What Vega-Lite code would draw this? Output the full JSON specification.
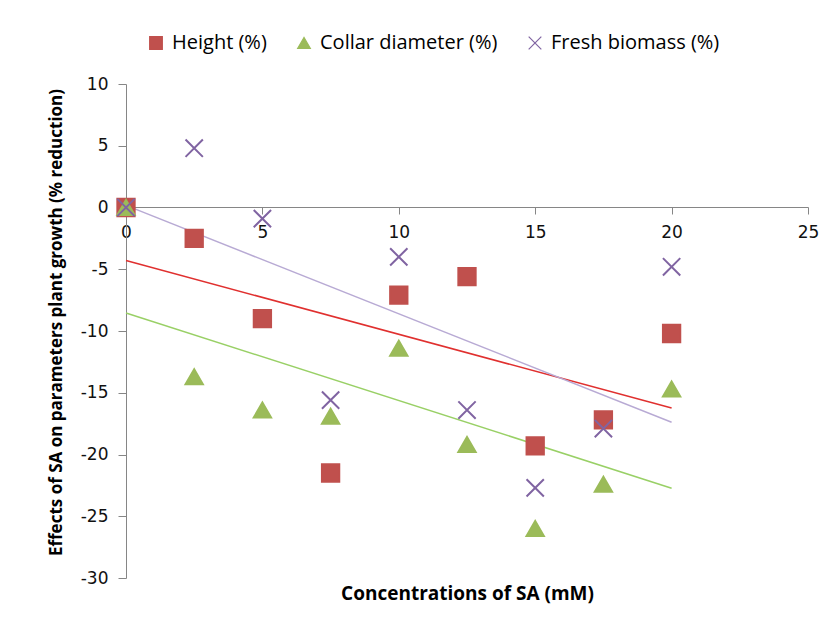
{
  "$schema": "https://vega.github.io/schema/vega-lite/v6.json",
  "width": 682,
  "height": 494,
  "autosize": {"type": "none"},
  "padding": {"left": 126, "top": 84, "right": 24, "bottom": 45},
  "background": "white",
  "config": {
    "view": {"stroke": null},
    "axis": {
      "grid": false,
      "domainColor": "#868686",
      "tickColor": "#868686",
      "labelFont": "DejaVu Sans",
      "labelFontSize": 17,
      "labelColor": "#111111",
      "titleFont": "Open Sans",
      "titleFontWeight": "bold",
      "titleColor": "#000000"
    }
  },
  "data": {
    "values": [
      {"conc": 0, "series": "Height (%)", "value": 0},
      {"conc": 2.5, "series": "Height (%)", "value": -2.5},
      {"conc": 5, "series": "Height (%)", "value": -9.0},
      {"conc": 7.5, "series": "Height (%)", "value": -21.5},
      {"conc": 10, "series": "Height (%)", "value": -7.1},
      {"conc": 12.5, "series": "Height (%)", "value": -5.6},
      {"conc": 15, "series": "Height (%)", "value": -19.3},
      {"conc": 17.5, "series": "Height (%)", "value": -17.2},
      {"conc": 20, "series": "Height (%)", "value": -10.2},
      {"conc": 0, "series": "Collar diameter (%)", "value": 0},
      {"conc": 2.5, "series": "Collar diameter (%)", "value": -13.7},
      {"conc": 5, "series": "Collar diameter (%)", "value": -16.4},
      {"conc": 7.5, "series": "Collar diameter (%)", "value": -16.9},
      {"conc": 10, "series": "Collar diameter (%)", "value": -11.4},
      {"conc": 12.5, "series": "Collar diameter (%)", "value": -19.2},
      {"conc": 15, "series": "Collar diameter (%)", "value": -26.0},
      {"conc": 17.5, "series": "Collar diameter (%)", "value": -22.4},
      {"conc": 20, "series": "Collar diameter (%)", "value": -14.7},
      {"conc": 0, "series": "Fresh biomass (%)", "value": 0},
      {"conc": 2.5, "series": "Fresh biomass (%)", "value": 4.8},
      {"conc": 5, "series": "Fresh biomass (%)", "value": -0.9},
      {"conc": 7.5, "series": "Fresh biomass (%)", "value": -15.6},
      {"conc": 10, "series": "Fresh biomass (%)", "value": -4.0},
      {"conc": 12.5, "series": "Fresh biomass (%)", "value": -16.4},
      {"conc": 15, "series": "Fresh biomass (%)", "value": -22.7},
      {"conc": 17.5, "series": "Fresh biomass (%)", "value": -17.9},
      {"conc": 20, "series": "Fresh biomass (%)", "value": -4.8}
    ]
  },
  "encoding": {
    "x": {
      "field": "conc",
      "type": "quantitative",
      "scale": {"domain": [0, 25], "nice": false, "zero": false},
      "axis": {
        "title": "Concentrations of SA (mM)",
        "titleFontSize": 19,
        "values": [0, 5, 10, 15, 20, 25],
        "offset": -371,
        "tickSize": 7,
        "labelPadding": 10,
        "titlePadding": 344,
        "labelFlush": false
      }
    },
    "y": {
      "field": "value",
      "type": "quantitative",
      "scale": {"domain": [-30, 10], "nice": false, "zero": false},
      "axis": {
        "title": "Effects of SA on parameters plant growth (% reduction)",
        "titleFontSize": 17,
        "titleY": 238,
        "values": [-30, -25, -20, -15, -10, -5, 0, 5, 10],
        "labelExpr": "replace(datum.label, '\u2212', '-')",
        "tickSize": 8,
        "labelPadding": 10,
        "titlePadding": 15
      }
    }
  },
  "layer": [
    {
      "transform": [
        {"filter": "datum.series == 'Height (%)'"},
        {"regression": "value", "on": "conc", "extent": [0, 20]}
      ],
      "mark": {"type": "line", "strokeWidth": 1.5, "color": "#E0302F"},
      "encoding": {}
    },
    {
      "transform": [
        {"filter": "datum.series == 'Collar diameter (%)'"},
        {"regression": "value", "on": "conc", "extent": [0, 20]}
      ],
      "mark": {"type": "line", "strokeWidth": 1.5, "color": "#99D066"},
      "encoding": {}
    },
    {
      "transform": [
        {"filter": "datum.series == 'Fresh biomass (%)'"},
        {"regression": "value", "on": "conc", "extent": [0, 20]}
      ],
      "mark": {"type": "line", "strokeWidth": 1.5, "color": "#B8AAD4"},
      "encoding": {}
    },
    {
      "mark": {"type": "point", "filled": true, "strokeWidth": 2, "opacity": 1, "size": 300},
      "encoding": {
        "color": {
          "field": "series",
          "type": "nominal",
          "scale": {
            "domain": ["Height (%)", "Collar diameter (%)", "Fresh biomass (%)"],
            "range": ["#C0504D", "#9BBB59", "#8064A2"]
          },
          "legend": {
            "title": null,
            "orient": "none",
            "direction": "horizontal",
            "legendX": 20,
            "legendY": -51,
            "columnPadding": 27,
            "labelFont": "Open Sans",
            "labelFontSize": 20,
            "labelLimit": 400,
            "labelColor": "#000000",
            "symbolSize": 160,
            "symbolStrokeWidth": 1.2,
            "labelOffset": 6
          }
        },
        "stroke": {
          "field": "series",
          "type": "nominal",
          "scale": {
            "domain": ["Height (%)", "Collar diameter (%)", "Fresh biomass (%)"],
            "range": ["#C0504D", "#9BBB59", "#8064A2"]
          }
        },
        "shape": {
          "field": "series",
          "type": "nominal",
          "scale": {
            "domain": ["Height (%)", "Collar diameter (%)", "Fresh biomass (%)"],
            "range": ["square", "triangle-up", "M-1,-1L1,1M-1,1L1,-1"]
          }
        }
      }
    }
  ]
}
